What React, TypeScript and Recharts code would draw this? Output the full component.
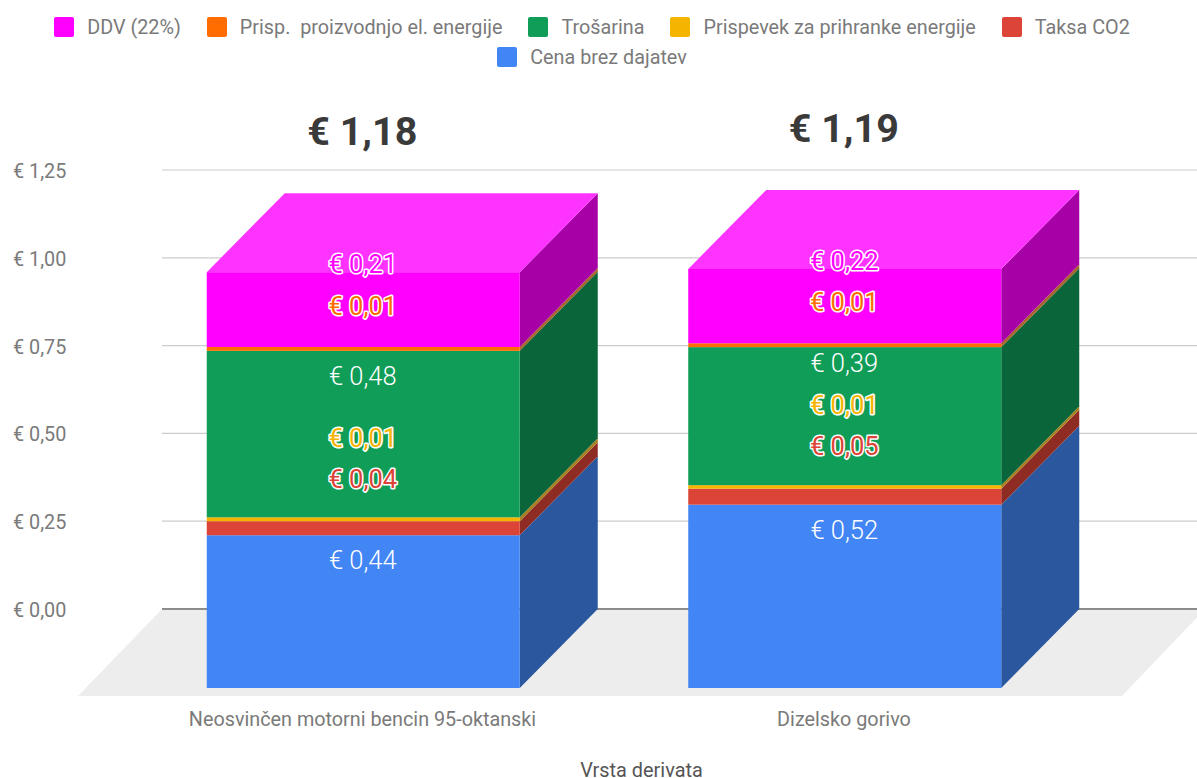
import React from "react";
import { BarChart, Bar, XAxis, YAxis, CartesianGrid, ReferenceLine, Legend, LabelList } from "recharts";

const categories = ["Neosvinčen motorni bencin 95-oktanski", "Dizelsko gorivo"];
const cenaBrezDajatev = [0.435, 0.522];
const taksaCO2 = [0.04, 0.0456];
const prihranki = [0.011, 0.01];
const trosarina = [0.474, 0.393];
const proizvodnja = [0.011, 0.011];
const ddv = [0.213, 0.2116];
const totalLabels = ["€ 1,18", "€ 1,19"];
const cenaLabels = ["€ 0,44", "€ 0,52"];
const taksaLabels = ["€ 0,04", "€ 0,05"];
const prihrankiLabels = ["€ 0,01", "€ 0,01"];
const trosarinaLabels = ["€ 0,48", "€ 0,39"];
const proizvodnjaLabels = ["€ 0,01", "€ 0,01"];
const ddvLabels = ["€ 0,21", "€ 0,22"];
const yTicks = [0, 0.25, 0.5, 0.75, 1, 1.25];
const yTickLabels = ["€ 0,00", "€ 0,25", "€ 0,50", "€ 0,75", "€ 1,00", "€ 1,25"];
const legendOrder = [
  "DDV (22%)",
  "Prisp.  proizvodnjo el. energije",
  "Trošarina",
  "Prispevek za prihranke energije",
  "Taksa CO2",
  "Cena brez dajatev",
];

const DX = 78;
const DY = 79;
const FONT = "Roboto, sans-serif";
const MUTED = "#7a7a7a";

const data = categories.map((name, i) => ({
  name,
  cena: cenaBrezDajatev[i],
  taksa: taksaCO2[i],
  prihranki: prihranki[i],
  trosarina: trosarina[i],
  proizvodnja: proizvodnja[i],
  ddv: ddv[i],
  cenaLabel: cenaLabels[i],
  taksaLabel: taksaLabels[i],
  prihrankiLabel: prihrankiLabels[i],
  trosarinaLabel: trosarinaLabels[i],
  proizvodnjaLabel: proizvodnjaLabels[i],
  ddvLabel: ddvLabels[i],
  totalLabel: totalLabels[i],
}));

function makeShape(front: string, side: string, top?: string) {
  return (p: any) => {
    const { x, y, width: w, height: h } = p;
    const pts = [
      [x + w - DX, y + DY],
      [x + w, y],
      [x + w, y + h],
      [x + w - DX, y + h + DY],
    ];
    return (
      <g>
        <polygon points={pts.map((q) => q.join(",")).join(" ")} fill={side} />
        <rect x={x - DX} y={y + DY} width={w} height={h} fill={front} />
        {top ? (
          <polygon
            points={`${x - DX},${y + DY} ${x + w - DX},${y + DY} ${x + w},${y} ${x},${y}`}
            fill={top}
          />
        ) : null}
      </g>
    );
  };
}

function makeLabel(fill: string, aura: boolean, nudge: number[]) {
  return (p: any) => {
    const vb = p.viewBox || p;
    const x = p.x ?? vb.x;
    const y = p.y ?? vb.y;
    const w = p.width ?? vb.width;
    return (
      <text
        x={x + w / 2 - DX - 0.5}
        y={y + DY + nudge[p.index]}
        dy="0.35em"
        textAnchor="middle"
        fontFamily={FONT}
        fontSize={25.5}
        fontWeight={aura ? 400 : 300}
        fill={fill}
        stroke={aura ? "#ffffff" : "none"}
        strokeWidth={aura ? 3 : 0}
        paintOrder="stroke"
        strokeLinejoin="round"
      >
        {p.value}
      </text>
    );
  };
}

const totalLabel = (p: any) => {
  const vb = p.viewBox || p;
  const x = p.x ?? vb.x;
  const y = p.y ?? vb.y;
  const w = p.width ?? vb.width;
  return (
    <text
      x={x + w / 2 - DX - 1}
      y={y - 62}
      dy="0.35em"
      textAnchor="middle"
      fontFamily={FONT}
      fontWeight={700}
      fontSize={39.5}
      fill="#3a3a3a"
    >
      {p.value}
    </text>
  );
};

const Floor = (p: any) => {
  const y = p.y1 ?? p.viewBox?.y;
  const x1 = p.x1 ?? 162;
  const x2 = p.x2 ?? 1197;
  return (
    <g>
      <polygon
        points={`${x1},${y} ${x2 + 8},${y} ${x2 - 75},${y + 87} ${x1 - 84},${y + 87}`}
        fill="#ededed"
      />
      <line x1={x1} x2={x2} y1={y} y2={y} stroke="#333333" strokeWidth={1.2} />
    </g>
  );
};

const LegendBox = (p: any) => {
  const items = legendOrder
    .map((n) => (p.payload || []).find((it: any) => it.value === n))
    .filter(Boolean);
  return (
    <div
      style={{
        display: "flex",
        flexWrap: "wrap",
        justifyContent: "center",
        fontFamily: FONT,
        fontSize: 19.8,
        color: MUTED,
        rowGap: 10,
        columnGap: 26,
        lineHeight: "20px",
      }}
    >
      {items.map((it: any) => (
        <div key={it.value} style={{ display: "flex", alignItems: "center", height: 20 }}>
          <span
            style={{
              width: 20,
              height: 20,
              borderRadius: 2,
              background: it.color,
              marginRight: 13,
              display: "inline-block",
            }}
          />
          <span style={{ whiteSpace: "pre", position: "relative", top: 1 }}>{it.value}</span>
        </div>
      ))}
    </div>
  );
};

const XTick = (p: any) => (
  <text
    x={p.x - DX - 1}
    y={719}
    dy="0.35em"
    textAnchor="middle"
    fontFamily={FONT}
    fontSize={19.8}
    fill={MUTED}
  >
    {p.payload.value}
  </text>
);

const YTick = (p: any) => (
  <text x={13} y={p.y + 1} dy="0.35em" textAnchor="start" fontFamily={FONT} fontSize={19.8} fill={MUTED}>
    {yTickLabels[yTicks.indexOf(p.payload.value)]}
  </text>
);

const AxisTitle = (p: any) => (
  <text
    x={641.5}
    y={p.viewBox.y + 161}
    dy="0.35em"
    textAnchor="middle"
    fontFamily={FONT}
    fontSize={19.9}
    fill="#555555"
  >
    Vrsta derivata
  </text>
);

export default function App() {
  return (
    <div style={{ position: "absolute", left: 0, top: 0, width: 1197, height: 778, overflow: "hidden" }}>
      <BarChart
        width={1197}
        height={778}
        data={data}
        barSize={313}
        margin={{ top: 100, right: 0, bottom: 0, left: 0 }}
      >
        <Legend
          verticalAlign="top"
          content={LegendBox}
          height={70}
          wrapperStyle={{ top: 17, left: 0, width: 1184, height: 70 }}
        />
        <CartesianGrid vertical={false} stroke="#cccccc" strokeWidth={1.2} />
        <XAxis
          dataKey="name"
          type="category"
          height={169}
          axisLine={false}
          tickLine={false}
          padding={{ left: 38.75, right: 33.25 }}
          tick={XTick}
          interval={0}
          label={{ content: AxisTitle }}
        />
        <YAxis
          width={162}
          domain={[0, 1.25]}
          ticks={yTicks}
          axisLine={false}
          tickLine={false}
          tick={YTick}
        />
        <ReferenceLine y={0} shape={Floor} zIndex={50} />
        <Bar dataKey="cena" name="Cena brez dajatev" stackId="s" fill="#4285f4" isAnimationActive={false}
          shape={makeShape("#4285f4", "#2b579f")}>
          <LabelList dataKey="cenaLabel" content={makeLabel("#ffffff", false, [25, 25])} />
        </Bar>
        <Bar dataKey="taksa" name="Taksa CO2" stackId="s" fill="#db4437" isAnimationActive={false}
          shape={makeShape("#db4437", "#8e2c24")}>
          <LabelList dataKey="taksaLabel" content={makeLabel("#db4437", true, [-42, -42.7])} />
        </Bar>
        <Bar dataKey="prihranki" name="Prispevek za prihranke energije" stackId="s" fill="#f4b400" isAnimationActive={false}
          shape={makeShape("#f4b400", "#a8801e")}>
          <LabelList dataKey="prihrankiLabel" content={makeLabel("#f4b400", true, [-79, -80])} />
        </Bar>
        <Bar dataKey="trosarina" name="Trošarina" stackId="s" fill="#0f9d58" isAnimationActive={false}
          shape={makeShape("#0f9d58", "#0a663a")}>
          <LabelList dataKey="trosarinaLabel" content={makeLabel("#ffffff", false, [25, 16])} />
        </Bar>
        <Bar dataKey="proizvodnja" name="Prisp.  proizvodnjo el. energije" stackId="s" fill="#ff6d00" isAnimationActive={false}
          shape={makeShape("#ff6d00", "#a8642a")}>
          <LabelList dataKey="proizvodnjaLabel" content={makeLabel("#ff6d00", true, [-41, -41])} />
        </Bar>
        <Bar dataKey="ddv" name="DDV (22%)" stackId="s" fill="#ff00ff" isAnimationActive={false}
          shape={makeShape("#ff00ff", "#a600a6", "#ff33ff")}>
          <LabelList dataKey="ddvLabel" content={makeLabel("#ff00ff", true, [-8, -8])} />
          <LabelList dataKey="totalLabel" content={totalLabel} />
        </Bar>
      </BarChart>
    </div>
  );
}
